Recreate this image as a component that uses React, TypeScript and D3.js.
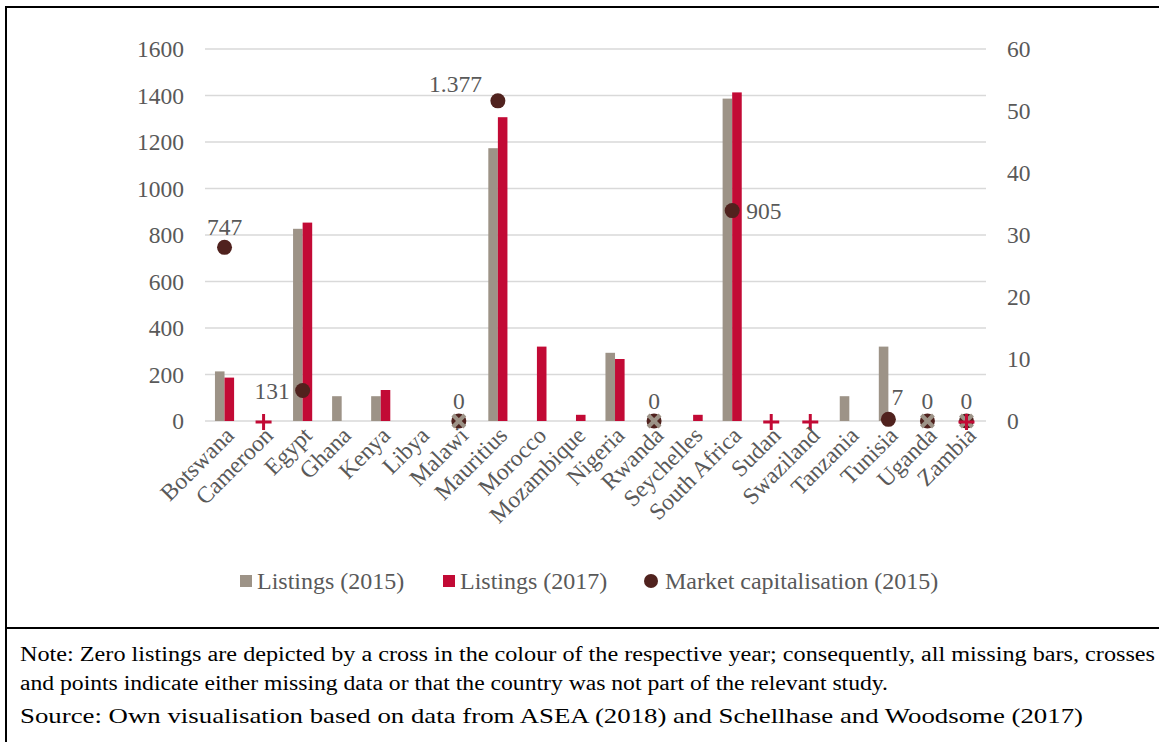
import React from "react";
import * as d3 from "d3";

const countries = ["Botswana","Cameroon","Egypt","Ghana","Kenya","Libya","Malawi","Mauritius","Morocco","Mozambique","Nigeria","Rwanda","Seychelles","South Africa","Sudan","Swaziland","Tanzania","Tunisia","Uganda","Zambia"];
const listings2015: (number | null)[] = [8, null, 31, 4, 4, null, 0, 44, null, null, 11, 0, null, 52, null, null, 4, 12, 0, 0];
const listings2017: (number | null)[] = [7, 0, 32, null, 5, null, null, 49, 12, 1, 10, null, 1, 53, 0, 0, null, null, null, 0];
const marketCap2015: (number | null)[] = [747, null, 131, null, null, null, 0, 1377, null, null, null, 0, null, 905, null, null, null, 7, 0, 0];
const marketCapLabels: (string | null)[] = ["747", null, "131", null, null, null, "0", "1.377", null, null, null, "0", null, "905", null, null, null, "7", "0", "0"];
const labelPlacement: (string | null)[] = ["above", null, "left", null, null, null, "above", "aboveLeft", null, null, null, "above", null, "right", null, null, null, "aboveRight", "above", "above"];
const leftTicks = [0, 200, 400, 600, 800, 1000, 1200, 1400, 1600];
const rightTicks = [0, 10, 20, 30, 40, 50, 60];
const legendLabels = ["Listings (2015)", "Listings (2017)", "Market capitalisation (2015)"];
const noteLines = [
  "Note: Zero listings are depicted by a cross in the colour of the respective year; consequently, all missing bars, crosses",
  "and points indicate either missing data or that the country was not part of the relevant study.",
];
const sourceLine = "Source: Own visualisation based on data from ASEA (2018) and Schellhase and Woodsome (2017)";

const C2015 = "#9d9387";
const C2017 = "#c20a35";
const CDOT = "#50221e";
const TXT = "#595959";
const FONT = "'Liberation Serif', 'Times New Roman', serif";

export default function App() {
  const W = 1159, H = 742;
  const x0 = 205, x1 = 986, yTop = 49, yZero = 421;
  const x = d3.scaleBand<string>().domain(countries).range([x0, x1]).padding(0);
  const bw = x.bandwidth();
  const sub = d3.scaleBand<string>().domain(["2015", "2017"]).range([bw * 0.255, bw * 0.745]).padding(0);
  const yL = d3.scaleLinear().domain([0, 1600]).range([yZero, yTop]);
  const yR = d3.scaleLinear().domain([0, 60]).range([yZero, yTop]);
  const cx = (c: string) => (x(c) as number) + bw / 2;

  const cross2015 = (c: string, key: string) => {
    const px = cx(c), py = yR(0), s = 6;
    return (
      <g key={key} stroke={C2015} strokeWidth={4}>
        <line x1={px - s} y1={py - s} x2={px + s} y2={py + s} />
        <line x1={px - s} y1={py + s} x2={px + s} y2={py - s} />
      </g>
    );
  };
  const cross2017 = (c: string, key: string) => {
    const px = cx(c), py = yR(0) + 1, s = 8;
    return (
      <g key={key} stroke={C2017} strokeWidth={3}>
        <line x1={px - s} y1={py} x2={px + s} y2={py} />
        <line x1={px} y1={py - s} x2={px} y2={py + s} />
      </g>
    );
  };

  return (
    <svg width={W} height={H} style={{ position: "absolute", left: 0, top: 0, background: "#fff" }} fontFamily={FONT}>
      {/* frame */}
      <line x1={6} y1={7} x2={W} y2={7} stroke="#000" strokeWidth={2} />
      <line x1={6} y1={6} x2={6} y2={H} stroke="#000" strokeWidth={2} />
      <line x1={6} y1={628} x2={W} y2={628} stroke="#000" strokeWidth={2} />

      {/* gridlines */}
      {leftTicks.map((t) => (
        <line key={"g" + t} x1={x0} x2={x1} y1={yL(t)} y2={yL(t)} stroke="#d9d9d9" strokeWidth={1.5} />
      ))}
      {/* left axis labels */}
      {leftTicks.map((t) => (
        <text key={"l" + t} x={184} y={yL(t)} dy="0.35em" textAnchor="end" fontSize={23.5} fill={TXT}>{t}</text>
      ))}
      {/* right axis labels */}
      {rightTicks.map((t) => (
        <text key={"r" + t} x={1007} y={yR(t)} dy="0.35em" textAnchor="start" fontSize={23.5} fill={TXT}>{t}</text>
      ))}

      {/* bars */}
      {countries.map((c, i) => {
        const v = listings2015[i];
        if (v == null || v === 0) return null;
        return <rect key={"b15" + c} x={(x(c) as number) + (sub("2015") as number)} y={yR(v)} width={sub.bandwidth()} height={yR(0) - yR(v)} fill={C2015} />;
      })}
      {countries.map((c, i) => {
        const v = listings2017[i];
        if (v == null || v === 0) return null;
        return <rect key={"b17" + c} x={(x(c) as number) + (sub("2017") as number)} y={yR(v)} width={sub.bandwidth()} height={yR(0) - yR(v)} fill={C2017} />;
      })}

      {/* market cap dots */}
      {countries.map((c, i) => {
        const v = marketCap2015[i];
        if (v == null) return null;
        return <circle key={"d" + c} cx={cx(c)} cy={yL(v)} r={7.5} fill={CDOT} />;
      })}

      {/* zero crosses */}
      {countries.map((c, i) => (listings2015[i] === 0 ? cross2015(c, "c15" + c) : null))}
      {countries.map((c, i) => (listings2017[i] === 0 ? cross2017(c, "c17" + c) : null))}

      {/* data labels */}
      {countries.map((c, i) => {
        const v = marketCap2015[i];
        const lab = marketCapLabels[i];
        if (v == null || lab == null) return null;
        const px = cx(c), py = yL(v);
        const p = labelPlacement[i];
        let tx = px, ty = py - 12, anchor: "middle" | "start" | "end" = "middle";
        if (p === "left") { tx = px - 13; ty = py + 8; anchor = "end"; }
        else if (p === "right") { tx = px + 14; ty = py + 8; anchor = "start"; }
        else if (p === "aboveLeft") { tx = px - 16; ty = py - 9; anchor = "end"; }
        else if (p === "aboveRight") { tx = px + 9; ty = py - 14; anchor = "middle"; }
        return <text key={"t" + c} x={tx} y={ty} textAnchor={anchor} fontSize={23.5} fill={TXT}>{lab}</text>;
      })}

      {/* x labels */}
      {countries.map((c) => (
        <text key={"x" + c} transform={`translate(${cx(c) + 5},${431}) rotate(-45)`} textAnchor="end" dy="0.35em" fontSize={23.5} fill={TXT}>{c}</text>
      ))}

      {/* legend */}
      <rect x={240} y={575} width={12} height={12} fill={C2015} />
      <text x={257} y={589} fontSize={24} fill={TXT}>{legendLabels[0]}</text>
      <rect x={443} y={575} width={12} height={12} fill={C2017} />
      <text x={460} y={589} fontSize={24} fill={TXT}>{legendLabels[1]}</text>
      <circle cx={651} cy={581} r={7} fill={CDOT} />
      <text x={665} y={589} fontSize={24} fill={TXT}>{legendLabels[2]}</text>

      {/* notes */}
      <text x={20} y={661} fontSize={20} fill="#000" textLength={1135} lengthAdjust="spacingAndGlyphs">{noteLines[0]}</text>
      <text x={20} y={690} fontSize={20} fill="#000" textLength={868} lengthAdjust="spacingAndGlyphs">{noteLines[1]}</text>
      <text x={20} y={723} fontSize={21} fill="#000" textLength={1063} lengthAdjust="spacingAndGlyphs">{sourceLine}</text>
    </svg>
  );
}
